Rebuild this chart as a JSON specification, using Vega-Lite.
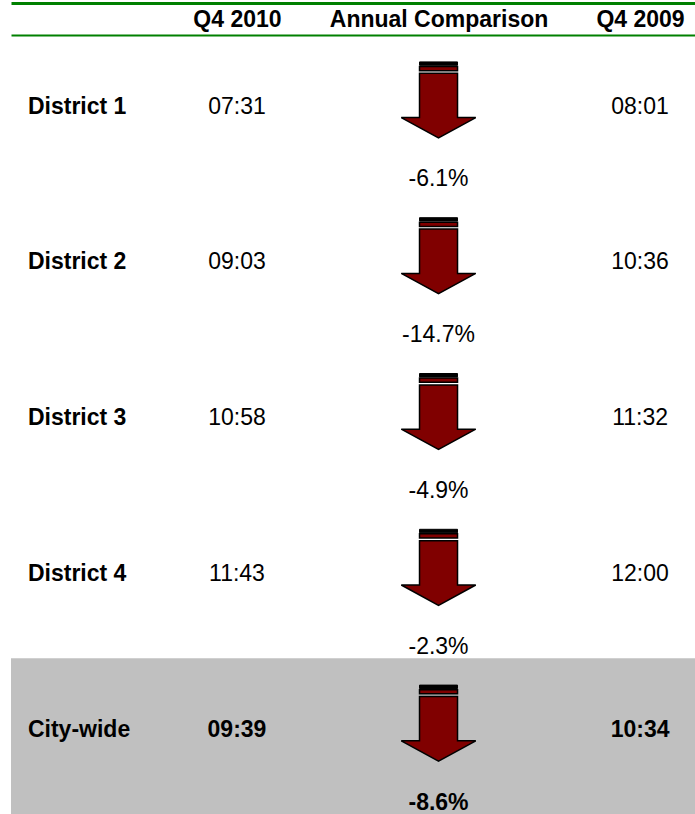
{
  "$schema": "https://vega.github.io/schema/vega-lite/v6.json",
  "autosize": {"type": "fit", "contains": "padding"},
  "width": 695,
  "height": 814,
  "padding": {"top": 3, "left": 11, "right": 0, "bottom": 0},
  "background": "white",
  "config": {
    "view": {"stroke": null},
    "text": {"font": "Liberation Sans", "fontSize": 23, "color": "black"},
    "locale": {"number": {"decimal": ".", "thousands": ",", "grouping": [3], "currency": ["$", ""], "minus": "-"}}
  },
  "data": {
    "values": [
      {"District": "District 1", "Q4 2010": "07:31", "Q4 2009": "08:01", "Change": -0.061},
      {"District": "District 2", "Q4 2010": "09:03", "Q4 2009": "10:36", "Change": -0.147},
      {"District": "District 3", "Q4 2010": "10:58", "Q4 2009": "11:32", "Change": -0.049},
      {"District": "District 4", "Q4 2010": "11:43", "Q4 2009": "12:00", "Change": -0.023},
      {"District": "City-wide", "Q4 2010": "09:39", "Q4 2009": "10:34", "Change": -0.086}
    ]
  },
  "resolve": {"axis": {"x": "independent"}},
  "layer": [
    {
      "transform": [{"filter": "datum.District === 'City-wide'"}],
      "mark": {"type": "rect", "color": "#c0c0c0"},
      "encoding": {
        "y": {"field": "District", "type": "nominal", "scale": {"type": "band", "domain": ["District 1", "District 2", "District 3", "District 4", "City-wide"], "paddingInner": 0, "paddingOuter": 0}, "axis": null}
      }
    },
    {
      "mark": {"type": "text", "align": "left", "dx": -7.5, "dy": -6.3, "fontWeight": "bold"},
      "encoding": {
        "x": {"datum": "District", "type": "nominal", "scale": {"type": "point", "domain": ["District", "Q4 2010", "Annual Comparison", "Q4 2009"], "padding": 0.197, "align": 0.308}, "axis": null},
        "y": {"field": "District", "type": "nominal", "scale": {"type": "band", "domain": ["District 1", "District 2", "District 3", "District 4", "City-wide"], "paddingInner": 0, "paddingOuter": 0}, "axis": null},
        "text": {"field": "District"}
      }
    },
    {
      "transform": [{"filter": "datum.District !== 'City-wide'"}, {"fold": ["Q4 2010", "Q4 2009"], "as": ["col", "val"]}],
      "mark": {"type": "text", "dy": -6.3},
      "encoding": {
        "x": {"field": "col", "type": "nominal", "scale": {"type": "point", "domain": ["District", "Q4 2010", "Annual Comparison", "Q4 2009"], "padding": 0.197, "align": 0.308},
          "axis": {"orient": "top", "title": null, "labelExpr": "datum.value === 'District' ? '' : datum.value", "labelFont": "Liberation Sans", "labelFontSize": 23, "labelFontWeight": "bold", "labelColor": "black", "labelAngle": 0, "labelPadding": 9, "labelBaseline": "alphabetic", "labelOverlap": false, "labelLimit": 0, "ticks": false, "tickSize": 0, "domainColor": "#008000", "domainWidth": 2, "grid": false}},
        "y": {"field": "District", "type": "nominal", "scale": {"type": "band", "domain": ["District 1", "District 2", "District 3", "District 4", "City-wide"], "paddingInner": 0, "paddingOuter": 0}, "axis": null},
        "text": {"field": "val"}
      }
    },
    {
      "transform": [{"filter": "datum.District === 'City-wide'"}, {"fold": ["Q4 2010", "Q4 2009"], "as": ["col", "val"]}],
      "mark": {"type": "text", "dy": -6.3, "fontWeight": "bold"},
      "encoding": {
        "x": {"field": "col", "type": "nominal", "scale": {"type": "point", "domain": ["District", "Q4 2010", "Annual Comparison", "Q4 2009"], "padding": 0.197, "align": 0.308}, "axis": null},
        "y": {"field": "District", "type": "nominal", "scale": {"type": "band", "domain": ["District 1", "District 2", "District 3", "District 4", "City-wide"], "paddingInner": 0, "paddingOuter": 0}, "axis": null},
        "text": {"field": "val"}
      }
    },
    {
      "transform": [{"filter": "datum.District !== 'City-wide'"}],
      "mark": {"type": "text", "dy": 66.5},
      "encoding": {
        "x": {"datum": "Annual Comparison", "type": "nominal", "scale": {"type": "point", "domain": ["District", "Q4 2010", "Annual Comparison", "Q4 2009"], "padding": 0.197, "align": 0.308},
          "axis": {"orient": "bottom", "title": null, "labels": false, "ticks": false, "tickSize": 0, "domainColor": "#008000", "domainWidth": 1.5, "grid": false}},
        "y": {"field": "District", "type": "nominal", "scale": {"type": "band", "domain": ["District 1", "District 2", "District 3", "District 4", "City-wide"], "paddingInner": 0, "paddingOuter": 0}, "axis": null},
        "text": {"field": "Change", "type": "quantitative", "format": ".1%"}
      }
    },
    {
      "transform": [{"filter": "datum.District === 'City-wide'"}],
      "mark": {"type": "text", "dy": 66.5, "fontWeight": "bold"},
      "encoding": {
        "x": {"datum": "Annual Comparison", "type": "nominal", "scale": {"type": "point", "domain": ["District", "Q4 2010", "Annual Comparison", "Q4 2009"], "padding": 0.197, "align": 0.308}, "axis": null},
        "y": {"field": "District", "type": "nominal", "scale": {"type": "band", "domain": ["District 1", "District 2", "District 3", "District 4", "City-wide"], "paddingInner": 0, "paddingOuter": 0}, "axis": null},
        "text": {"field": "Change", "type": "quantitative", "format": ".1%"}
      }
    },
    {
      "mark": {"type": "point", "shape": "M-0.5,-0.88L0.5,-0.88L0.5,-0.77L-0.5,-0.77Z M-0.5,-0.7L0.5,-0.7L0.5,0.466L0.98,0.466L0,1L-0.98,0.466L-0.5,0.466Z", "size": 5776, "filled": true, "color": "#800000", "fill": "#800000", "stroke": "black", "strokeWidth": 1.5, "opacity": 1, "yOffset": -13},
      "encoding": {
        "x": {"datum": "Annual Comparison", "type": "nominal", "scale": {"type": "point", "domain": ["District", "Q4 2010", "Annual Comparison", "Q4 2009"], "padding": 0.197, "align": 0.308},
          "axis": {"orient": "top", "offset": 32, "title": null, "labels": false, "ticks": false, "tickSize": 0, "domainColor": "#008000", "domainWidth": 3, "grid": false}},
        "y": {"field": "District", "type": "nominal", "scale": {"type": "band", "domain": ["District 1", "District 2", "District 3", "District 4", "City-wide"], "paddingInner": 0, "paddingOuter": 0}, "axis": null}
      }
    },
    {
      "mark": {"type": "point", "shape": "M-0.5,-1L0.5,-1L0.5,-0.91L-0.5,-0.91Z", "size": 5776, "filled": true, "color": "black", "fill": "black", "stroke": "black", "strokeWidth": 1, "opacity": 1, "yOffset": -13},
      "encoding": {
        "x": {"datum": "Annual Comparison", "type": "nominal", "scale": {"type": "point", "domain": ["District", "Q4 2010", "Annual Comparison", "Q4 2009"], "padding": 0.197, "align": 0.308}, "axis": null},
        "y": {"field": "District", "type": "nominal", "scale": {"type": "band", "domain": ["District 1", "District 2", "District 3", "District 4", "City-wide"], "paddingInner": 0, "paddingOuter": 0}, "axis": null}
      }
    }
  ]
}
